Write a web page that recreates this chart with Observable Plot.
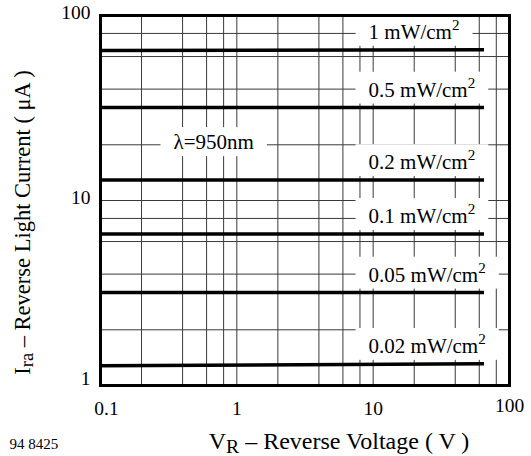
<!DOCTYPE html>
<html><head><meta charset="utf-8">
<script src="https://cdn.jsdelivr.net/npm/d3@7"></script>
<script src="https://cdn.jsdelivr.net/npm/@observablehq/plot@0.6"></script>
<style>body{margin:0;background:#fff}</style>
</head><body><div id="chart"></div>
<script>
// ---- data ----
const irradiance = ["1 mW/cm²", "0.5 mW/cm²", "0.2 mW/cm²", "0.1 mW/cm²", "0.05 mW/cm²", "0.02 mW/cm²"];
const currentAtStart = [64.7, 31.8, 12.9, 6.6, 3.18, 1.28];   // µA at VR = 0.1 V
const currentAtEnd   = [65.3, 31.8, 12.9, 6.6, 3.18, 1.31];   // µA at VR = 65 V
const voltageStart = 0.1;
const voltageEnd = 65;
const xTickValues = [0.1, 1, 10, 100];
const yTickValues = [1, 10, 100];
const xGridValues = [0.2, 0.4, 0.6, 0.8, 1, 2, 4, 6, 8, 10, 20, 40, 60, 80];
const yGridValues = [2, 4, 6, 8, 10, 20, 40, 60, 80];
const wavelengthNote = "λ=950nm";
const xTitle = "V_{R} – Reverse Voltage ( V )";
const yTitle = "I_{ra} – Reverse Light Current ( μA )";
const figureCode = "94 8425";

// tables built from the arrays
const lineRows = irradiance.flatMap((s, i) => [
  {series: s, v: voltageStart, i: currentAtStart[i]},
  {series: s, v: voltageEnd, i: currentAtEnd[i]}
]);
const labelRows = irradiance.map((s, i) => ({series: s, v: voltageEnd, i: currentAtEnd[i]}));

const serif = "'Liberation Serif', 'Times New Roman', Times, serif";
const ink = "#000";
const grid = "#3a3a3a";

const chart = Plot.plot({
  width: 531,
  height: 456,
  marginLeft: 100,
  marginRight: 22,
  marginTop: 15,
  marginBottom: 71,
  style: {fontFamily: serif, background: "#fff", color: ink},
  x: {type: "log", domain: [0.1, 100], axis: null},
  y: {type: "log", domain: [1, 100], axis: null},
  marks: [
    Plot.ruleX(xGridValues, {x: d => d, stroke: grid, strokeWidth: 1}),
    Plot.ruleY(yGridValues, {y: d => d, stroke: grid, strokeWidth: 1}),
    // boxed labels (white boxes added after render)
    Plot.text(labelRows, {x: () => 9.25, y: "i", text: "series", textAnchor: "start", lineAnchor: "bottom", dy: -11, fontSize: 21, fill: ink}),
    Plot.text([wavelengthNote], {x: () => 0.343, y: () => 20.6, text: d => d, textAnchor: "start", lineAnchor: "middle", fontSize: 21, fill: ink}),
    Plot.line(lineRows, {x: "v", y: "i", z: "series", stroke: ink, strokeWidth: 3.5, strokeLinecap: "butt"}),
    Plot.frame({stroke: ink, strokeWidth: 3}),
    // x tick labels
    Plot.text(xTickValues.filter(d => d === 1 || d === 10), {x: d => d, text: d => String(d), frameAnchor: "bottom", textAnchor: "middle", lineAnchor: "middle", dy: 23, fontSize: 19.5, fill: ink}),
    Plot.text(xTickValues.filter(d => d === 0.1), {x: d => d, text: d => String(d), frameAnchor: "bottom", textAnchor: "middle", lineAnchor: "middle", dy: 23, dx: 6, fontSize: 19.5, fill: ink}),
    Plot.text(xTickValues.filter(d => d === 100), {x: d => d, text: d => String(d), frameAnchor: "bottom", textAnchor: "middle", lineAnchor: "middle", dy: 20, fontSize: 19.5, fill: ink}),
    // y tick labels
    Plot.text(yTickValues.filter(d => d !== 1), {y: d => d, text: d => String(d), frameAnchor: "left", textAnchor: "end", lineAnchor: "middle", dx: -10, dy: -3, fontSize: 19.5, fill: ink}),
    Plot.text(yTickValues.filter(d => d === 1), {y: d => d, text: d => String(d), frameAnchor: "left", textAnchor: "end", lineAnchor: "middle", dx: -10, dy: -7, fontSize: 19.5, fill: ink}),
    // axis titles
    Plot.text([xTitle], {text: d => d, frameAnchor: "bottom", textAnchor: "middle", lineAnchor: "middle", dx: 34, dy: 56, fontSize: 24, fill: ink}),
    Plot.text([yTitle], {text: d => d, frameAnchor: "left", textAnchor: "middle", rotate: -90, lineAnchor: "middle", dx: -78, dy: 22, fontSize: 22.5, fill: ink}),
    Plot.text([figureCode], {text: d => d, frameAnchor: "bottom-left", textAnchor: "start", lineAnchor: "middle", dx: -91, dy: 59, fontSize: 15, fill: ink})
  ]
});
document.getElementById("chart").appendChild(chart);

// ---- post-processing: sub/superscripts and white label boxes ----
const NS = "http://www.w3.org/2000/svg";
const allTexts = Array.from(chart.querySelectorAll("text"));
const boxTargets = allTexts.filter(t => irradiance.includes(t.textContent) || t.textContent === wavelengthNote);
const richTargets = allTexts.filter(t => /([_^])\{([^}]*)\}|²/.test(t.textContent));

function rich(el) {
  const s = el.textContent;
  const re = /([_^])\{([^}]*)\}|²/g;
  const fs = parseFloat(getComputedStyle(el).fontSize) || 21;
  el.textContent = "";
  let last = 0, m, shift = 0;
  const add = (txt, size, dy) => {
    const t = document.createElementNS(NS, "tspan");
    t.textContent = txt;
    if (size) t.setAttribute("font-size", size + "px");
    if (dy) t.setAttribute("dy", dy + "px");
    el.appendChild(t);
  };
  while ((m = re.exec(s))) {
    if (m.index > last) { add(s.slice(last, m.index), null, -shift); shift = 0; }
    if (m[0] === "²" || m[1] === "^") {
      const d = -0.42 * fs; add(m[0] === "²" ? "2" : m[2], 0.72 * fs, d - shift); shift = d;
    } else {
      const d = 0.16 * fs; add(m[2], 0.82 * fs, d - shift); shift = d;
    }
    last = re.lastIndex;
  }
  if (last < s.length) add(s.slice(last), null, -shift);
}
richTargets.forEach(t => { try { rich(t); } catch (e) { console.error(e); } });
boxTargets.forEach(t => {
  const b = t.getBBox();
  const r = document.createElementNS(NS, "rect");
  r.setAttribute("x", b.x - 13);
  r.setAttribute("y", b.y - 3);
  r.setAttribute("width", b.width + 26);
  r.setAttribute("height", b.height + 5);
  r.setAttribute("fill", "#fff");
  const tr = t.getAttribute("transform");
  if (tr) r.setAttribute("transform", tr);
  t.parentNode.insertBefore(r, t);
});
</script>
</body></html>
